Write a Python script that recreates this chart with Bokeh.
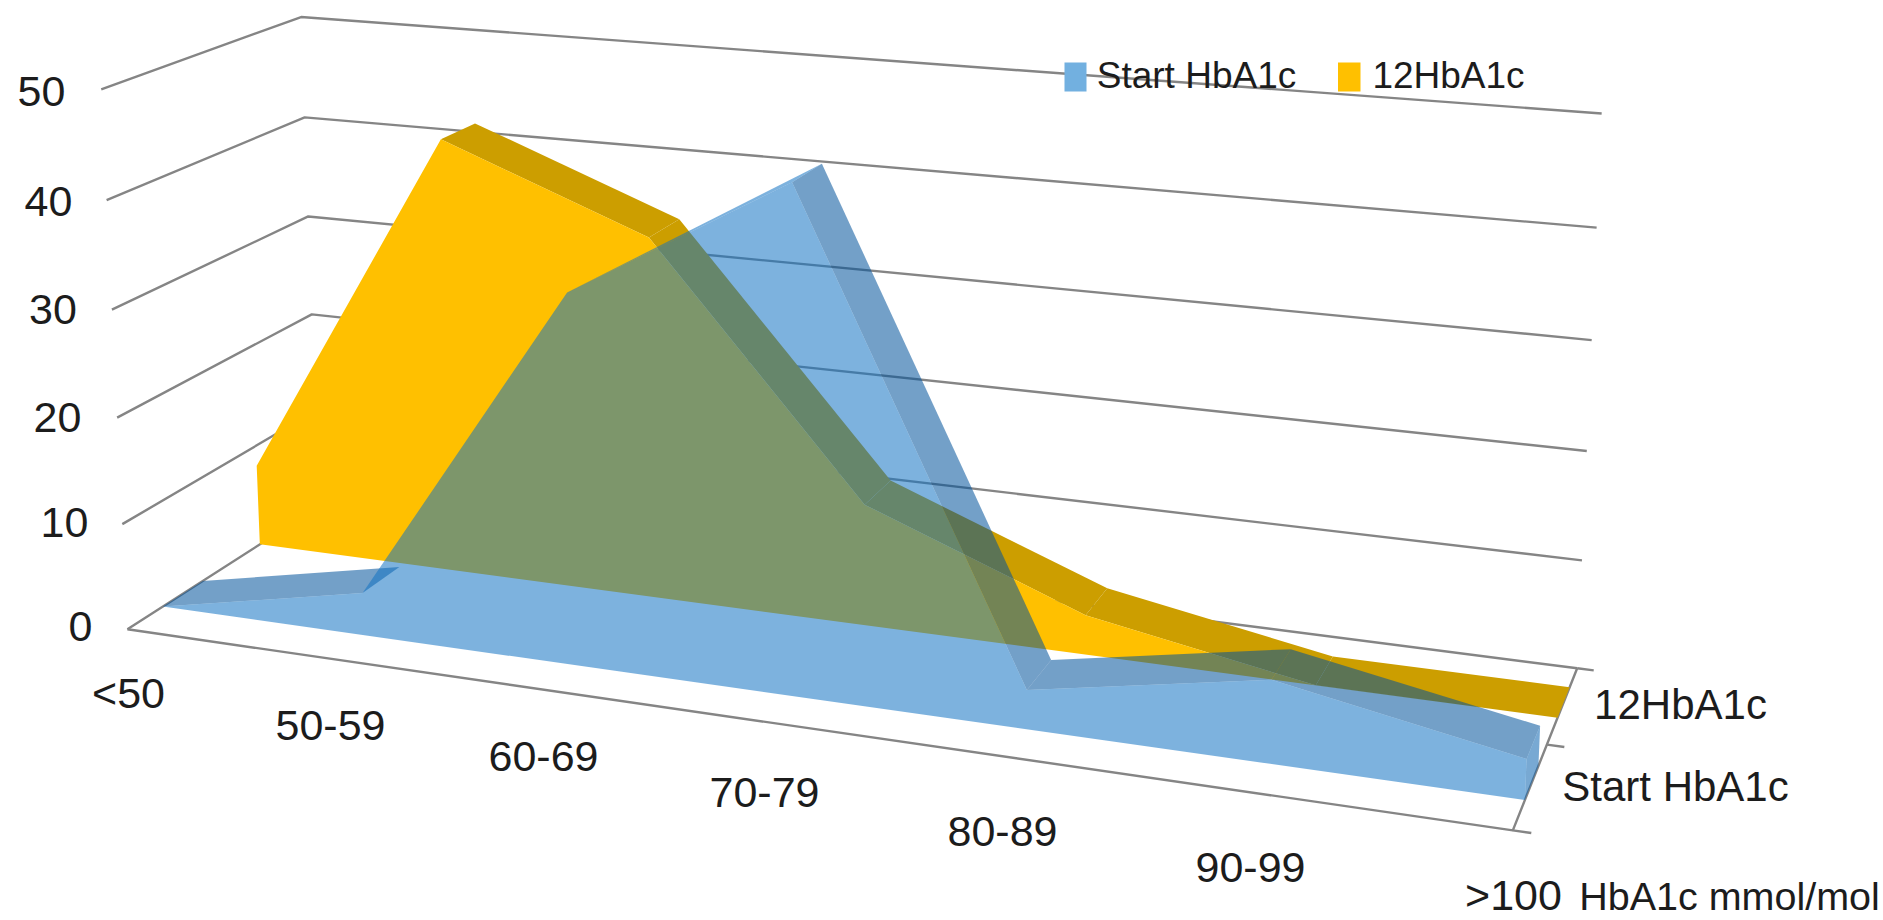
import numpy as np
from bokeh.core.properties import value
from bokeh.embed import file_html
from bokeh.models import ColumnDataSource, Range1d
from bokeh.plotting import figure
from bokeh.resources import INLINE

# HbA1c bands and the share of patients in each, at start and after 12 months
categories = ["<50", "50-59", "60-69", "70-79", "80-89", "90-99", ">100"]
start_hba1c = [0, 4, 34, 45.5, 3.5, 7.3, 3.5]
month12_hba1c = [8, 42, 34.5, 11.5, 3.7, 0, 0]
value_ticks = [0, 10, 20, 30, 40, 50]
value_max = 50
series_names = ["Start HbA1c", "12HbA1c"]
axis_title = "HbA1c mmol/mol"

FONT = "Liberation Sans"
INK = "#1c1c1c"
GRID = "#858585"
YELLOW, YELLOW_TOP = "#FFC000", "#CC9E00"
BLUE, BLUE_TOP, BLUE_CAP = "#1273C3", "#00529B", "#0A62AE"
BLUE_ALPHA = 0.55

# Perspective camera: (category 0-1, value 0-1, depth 0-1) to page pixels
CAMERA = np.array([
    [1179.91257, -29.55166, 225.58628, 126.92216],
    [88.35499, -542.93525, -68.08514, 628.75768],
    [-0.13588, -0.03331, 0.1078, 1.0],
])


def project(cat, val, depth):
    h = CAMERA @ np.array([cat, val / value_max, depth, 1.0])
    return float(h[0] / h[2]), float(h[1] / h[2])


def outline(points):
    xs, ys = zip(*points)
    return list(xs), list(ys)


p = figure(width=1883, height=920, output_backend="svg", toolbar_location=None,
           x_range=Range1d(0, 1883), y_range=Range1d(920, 0),
           min_border=0, outline_line_color=None, background_fill_color="white")
p.axis.visible = False
p.grid.visible = False

# Side and back walls, floor edges and depth ticks
lines = [outline([project(0, v, 0), project(0, v, 1), project(1, v, 1)]) for v in value_ticks]
lines.append(outline([project(0, 0, 0), project(1, 0, 0), project(1, 0, 1)]))
lines += [outline([project(1, 0, z), project(1.0115, 0, z)]) for z in (0, 0.5, 1)]
p.multi_line([l[0] for l in lines], [l[1] for l in lines], line_color=GRID, line_width=2.4)


def area_series(values, z_front, z_back, face, top, cap, alpha):
    """One band of the 3-D area chart: top strips, right-hand cap, front face."""
    n = len(values)
    cats = [i / (n - 1) for i in range(n)]
    front = [project(c, v, z_front) for c, v in zip(cats, values)]
    back = [project(c, v, z_back) for c, v in zip(cats, values)]

    face_polys, top_polys = [], []
    for i in range(n - 1):
        ex, ey = front[i + 1][0] - front[i][0], front[i + 1][1] - front[i][1]
        dx, dy = back[i][0] - front[i][0], back[i][1] - front[i][1]
        if ex * dy - ey * dx > 0:
            continue  # this strip faces away from the viewer
        if values[i + 1] - values[i] > 5:
            # a steep rise catches the light and reads as part of the face
            face_polys.append(outline([front[i], back[i + 1], front[i + 1]]))
        else:
            top_polys.append(outline([front[i], back[i], back[i + 1], front[i + 1]]))

    if top_polys:
        p.patches([q[0] for q in top_polys], [q[1] for q in top_polys],
                  fill_color=top, fill_alpha=alpha, line_alpha=0)
    end = outline([project(1, values[-1], z_front), project(1, values[-1], z_back),
                   project(1, 0, z_back), project(1, 0, z_front)])
    p.patch(end[0], end[1], fill_color=cap, fill_alpha=alpha, line_alpha=0)

    body = [project(0, 0, z_front)] + front + [project(1, 0, z_front)]
    fx, fy = outline(body)
    polys = [(fx, fy)] + face_polys
    p.patches([q[0] for q in polys], [q[1] for q in polys],
              fill_color=face, fill_alpha=alpha, line_alpha=0)


area_series(month12_hba1c, 0.67, 0.87, YELLOW, YELLOW_TOP, YELLOW_TOP, 1.0)
area_series(start_hba1c, 0.17, 0.37, BLUE, BLUE_TOP, BLUE_CAP, BLUE_ALPHA)


def label(texts, xs, ys, size):
    src = ColumnDataSource(dict(x=xs, y=ys, t=texts))
    p.text("x", "y", text="t", source=src, text_font=value(FONT), text_font_size=size,
           text_color=INK, text_align="center", text_baseline="middle")


# Value axis, category axis, series axis, title and legend
label([str(v) for v in value_ticks], [80, 64, 57, 52.5, 48, 41], [626, 522, 417, 309, 201, 91], "43px")
label(categories, [128, 330, 543, 764, 1002, 1250, 1513], [692, 725, 756, 792, 831, 867, 894], "43px")
label(series_names, [1675, 1680], [786, 704], "42px")
label([axis_title], [1729], [895], "39.5px")

p.quad(left=[1064, 1337.5], right=[1086, 1360], top=[62, 62], bottom=[91, 91],
       fill_color=["#72B0E0", YELLOW], line_alpha=0)
label(series_names, [1196, 1448], [75, 75], "37px")

open("out.html", "w").write(file_html(p, INLINE))
